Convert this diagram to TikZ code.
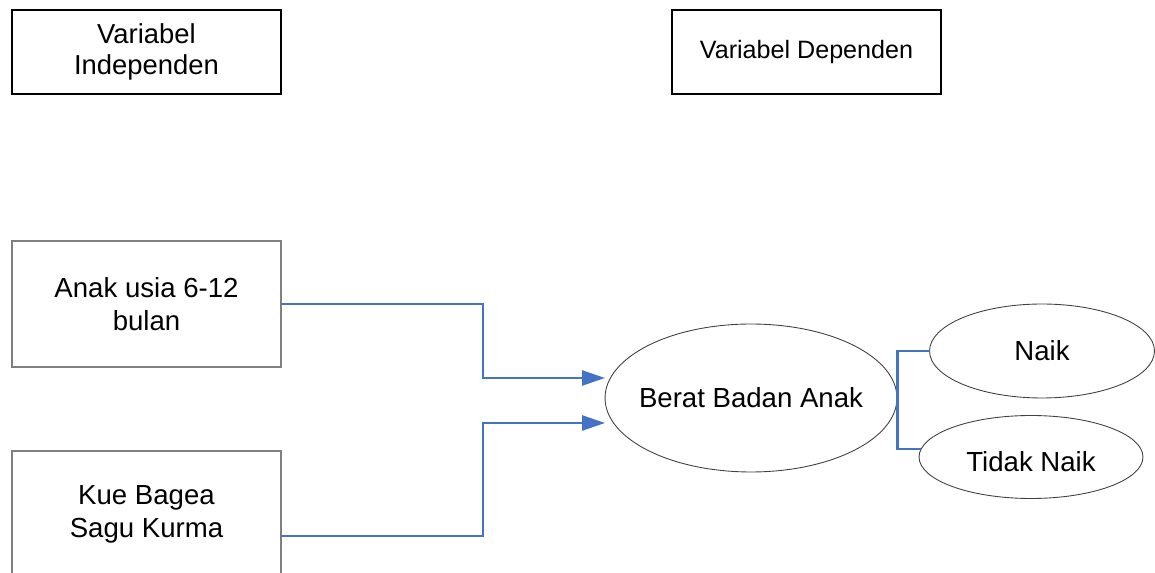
\documentclass[tikz,border=0pt]{standalone}
\usepackage{fontspec}
\setmainfont{Liberation Sans}
\usepackage{xcolor}
\usepackage{tikz}
\usetikzlibrary{arrows.meta,positioning,shapes.geometric,calc}
\definecolor{linkblue}{HTML}{4472C4}

\begin{document}
\begin{tikzpicture}[
    x=0.02cm, y=-0.02cm,
    varbox/.style={rectangle, draw, line width=1.1pt, minimum width=5.38cm,
                   minimum height=1.68cm, outer sep=0pt, align=center,
                   font=\fontsize{15.6}{18}\selectfont},
    inbox/.style={rectangle, draw=black!50, line width=0.6pt, minimum width=5.38cm,
                  minimum height=2.52cm, outer sep=0pt, align=center,
                  font=\fontsize{15.7}{18.7}\selectfont},
    oval/.style={ellipse, draw=black!75, line width=0.5pt, inner sep=0pt,
                 outer sep=0pt, font=\fontsize{15.7}{18.7}\selectfont},
    arr/.style={-{Triangle[length=13pt, width=8.5pt]}, linkblue, line width=1.3pt},
    link/.style={linkblue, line width=1.3pt},
]
    \useasboundingbox (0,0) rectangle (1155,573);
    \clip (0,0) rectangle (1155,573);

    % header boxes
    \node[varbox] (indep) at (146.5,52) {Variabel\\Independen};
    \node[varbox, font=\fontsize{14.3}{17}\selectfont] (dep) at (806.5,52) {Variabel Dependen};

    % independent variables
    \node[inbox] (anak) at (146.5,304) {Anak usia 6-12\\bulan};
    \node[inbox] (kue) at (146.5,514) {Kue Bagea\\Sagu Kurma};

    % dependent variable and outcomes
    \node[oval, inner xsep=-6pt, minimum width=5.84cm, minimum height=2.96cm] (berat) at (751,398) {Berat Badan Anak};
    \node[oval, minimum width=4.5cm, minimum height=1.88cm] (naik) at (1042,351) {Naik};
    \node[oval, minimum width=4.48cm, minimum height=1.66cm, text height=16.8pt, text depth=0pt] (tidak) at (1031,457) {Tidak Naik};

    \draw[arr] (anak.east) -- ++(202,0) |- ([yshift=0.4cm]berat.west);
    \draw[arr] ([yshift=-0.44cm]kue.east) -- ++(202,0) |- ([yshift=-0.5cm]berat.west);
    \draw[link] (naik.west) -- ++(-32,0) |- (tidak.176);
\end{tikzpicture}
\end{document}
